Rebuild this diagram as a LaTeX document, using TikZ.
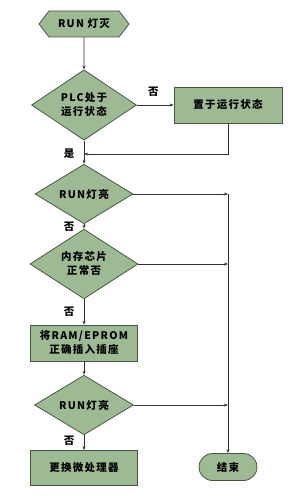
\documentclass[tikz,border=0pt]{standalone}
\usepackage{fontspec}
\setmainfont{Noto Sans CJK SC}[LetterSpace=12]
\usetikzlibrary{shapes.geometric, shapes.symbols, shapes.misc, arrows.meta}
\definecolor{boxgreen}{RGB}{158,186,148}
\definecolor{edgegreen}{RGB}{70,88,66}
\definecolor{linegray}{RGB}{50,50,50}

\begin{document}
\begin{tikzpicture}[x=1pt, y=-1pt, font=\fontsize{10.5}{14}\selectfont\bfseries]
        \tikzset{greenbox/.style={draw=edgegreen, fill=boxgreen, line width=0.8pt, inner sep=0pt, align=center}}
        \tikzset{decide/.style={greenbox, diamond}}
        \tikzset{procbox/.style={greenbox, rectangle}}
        \tikzset{flow/.style={draw=linegray, line width=0.6pt, -{Stealth[length=4pt, width=3pt]}}}

        \useasboundingbox (0,0) rectangle (297,497);

        \node[greenbox, signal, signal to=west and east, signal pointer angle=105, minimum width=90pt, minimum height=26pt] (start) at (84,24) {RUN 灯灭};
        \node[decide, minimum width=105pt, minimum height=44pt] (plc) at (84,105) {PLC处于\\运行状态};
        \node[procbox, minimum width=108pt, minimum height=36pt] (setrun) at (228,105) {置于运行状态};
        \node[decide, minimum width=98pt, minimum height=43pt] (runA) at (84,194) {RUN灯亮};
        \node[decide, minimum width=108pt, minimum height=58pt] (mem) at (84,264) {内存芯片\\正常否};
        \node[procbox, minimum width=107pt, minimum height=36pt] (insert) at (84,343) {将RAM/EPROM\\正确插入插座};
        \node[decide, minimum width=99pt, minimum height=44pt] (runB) at (84,405) {RUN灯亮};
        \node[procbox, minimum width=107pt, minimum height=35pt] (cpu) at (84,468) {更换微处理器};
        \node[greenbox, rounded rectangle, minimum width=58pt, minimum height=27pt] (finish) at (228,467) {结束};

        \coordinate (back) at (84,154);
        \coordinate (jA) at (228,194);
        \coordinate (jB) at (228,264);
        \coordinate (jC) at (228,405);

        \draw[flow] (start) -- (plc);
        \draw[flow] (plc) -- (setrun) node[pos=0.45, above=5pt] {否};
        \draw[flow] (setrun.south) |- (back);
        \draw[flow] (plc) -- (runA) node[pos=0.55, left=6pt] {是};
        \draw[flow] (runA) -- (mem) node[midway, left=6pt] {否};
        \draw[flow] (mem) -- (insert) node[midway, left=6pt] {否};
        \draw[flow] (insert) -- (runB);
        \draw[flow] (runB) -- (cpu) node[pos=0.4, left=6pt] {否};

        \draw[flow] (runA) -- (jA);
        \draw[flow] (mem) -- (jB);
        \draw[flow] (runB) -- (jC);
        \draw[flow] (jA) -- (finish);
    \end{tikzpicture}
\end{document}
